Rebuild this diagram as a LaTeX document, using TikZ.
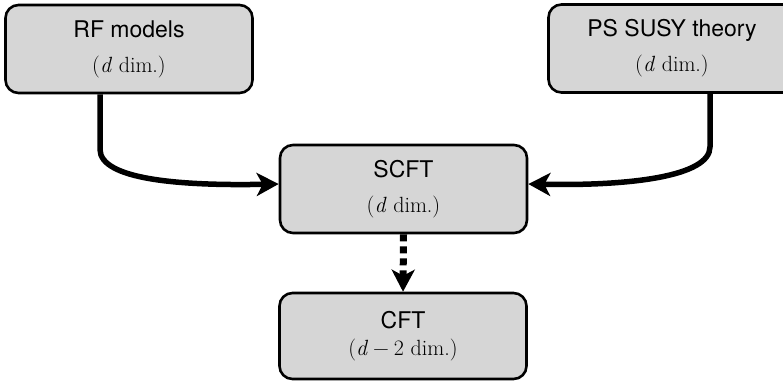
\documentclass[tikz,border=0pt]{standalone}
\usepackage{fontspec}
\setsansfont{TeX Gyre Heros}
\setmainfont{Latin Modern Roman}
\usetikzlibrary{arrows.meta}
\definecolor{boxgray}{RGB}{214,214,214}
\newcommand{\dimline}[1]{{\rmfamily\fontsize{22}{22}\selectfont(\textit{d}#1\ dim.)}}
\newcommand{\dminus}{\hspace{0.22em}−\hspace{0.22em}2}
\begin{document}
\begin{tikzpicture}[x=1pt,y=-1pt,
  box/.style={draw=black, line width=2.6pt, fill=boxgray, rounded corners=13pt,
    minimum width=247pt, minimum height=88pt, align=center, inner sep=0pt,
    font=\sffamily\fontsize{23}{26.4}\selectfont},
  flow/.style={line width=5.5pt, -{Stealth[length=22pt,width=23pt,inset=6pt]}},
  dotflow/.style={line width=7pt, dash pattern=on 7pt off 5pt,
    -{Stealth[length=22pt,width=23pt,inset=6pt]}}]
\useasboundingbox (0,0) rectangle (783,381);
\node[box] (rf) at (129,49) {RF models\\[8.5pt]\dimline{}};
\node[box] (ps) at (672,48.5) {PS SUSY theory\\[8.5pt]\dimline{}};
\node[box] (scft) at (403.5,189) {SCFT\\[8.5pt]\dimline{}};
\node[box, minimum height=86pt] (cft) at (403,336) {CFT\\[0pt]\dimline{\dminus}};
\draw[flow] ([xshift=-29pt]rf.south) -- ++(0,55) .. controls +(0,30) and +(-100,2) .. ([yshift=5pt]scft.west);
\draw[flow] ([xshift=38pt]ps.south) -- ++(0,53) .. controls +(0,30) and +(100,2) .. ([yshift=5pt]scft.east);
\draw[dotflow] (scft.south) -- (cft.north);
\end{tikzpicture}
\end{document}
